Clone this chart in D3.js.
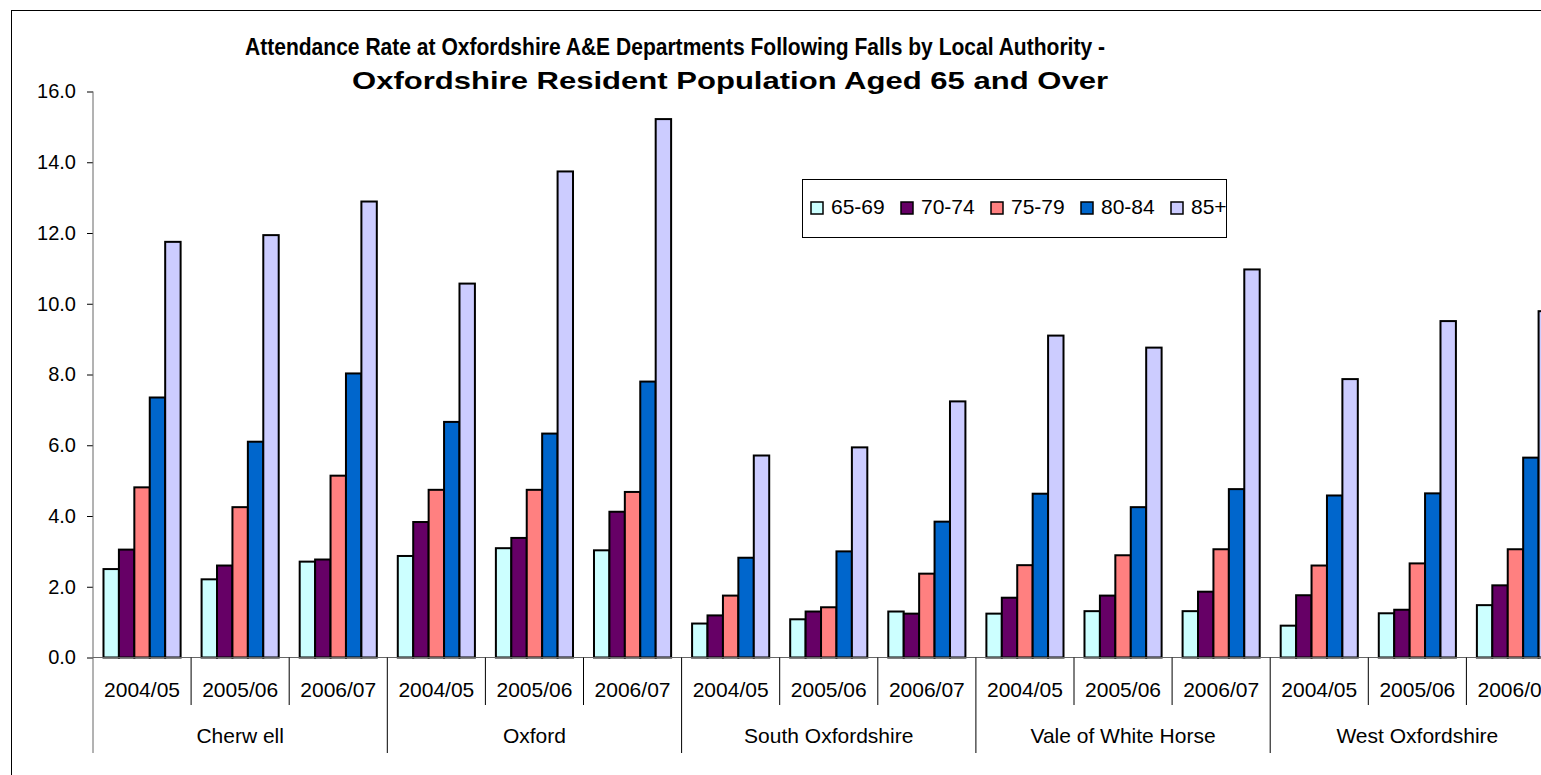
<!DOCTYPE html>
<html>
<head>
<meta charset="utf-8">
<script src="https://cdn.jsdelivr.net/npm/d3@7"></script>
<style>
  body { margin: 0; overflow: hidden; background: #fff; }
  text { font-family: "Liberation Sans", Arial, sans-serif; fill: #000; }
</style>
</head>
<body>
<div id="chart"></div>
<script>
var districts = ["Cherw ell", "Oxford", "South Oxfordshire", "Vale of White Horse", "West Oxfordshire"];
var years = ["2004/05", "2005/06", "2006/07"];
var seriesNames = ["65-69", "70-74", "75-79", "80-84", "85+"];
var seriesColors = ["#CCFFFF", "#660066", "#FF8080", "#0066CC", "#CCCCFF"];
var yTicks = [0, 2, 4, 6, 8, 10, 12, 14, 16];

// one value per district/year, in order Cherwell 04/05 ... West Oxon 06/07
var age65 = [2.50, 2.21, 2.71, 2.87, 3.09, 3.03, 0.96, 1.08, 1.30, 1.24, 1.31, 1.31, 0.90, 1.25, 1.48];
var age70 = [3.05, 2.60, 2.77, 3.83, 3.38, 4.12, 1.19, 1.30, 1.24, 1.69, 1.75, 1.86, 1.76, 1.35, 2.04];
var age75 = [4.81, 4.25, 5.14, 4.74, 4.74, 4.68, 1.75, 1.42, 2.37, 2.61, 2.89, 3.06, 2.60, 2.66, 3.06];
var age80 = [7.35, 6.10, 8.03, 6.66, 6.33, 7.80, 2.82, 3.00, 3.84, 4.63, 4.25, 4.76, 4.58, 4.64, 5.65];
var age85 = [11.75, 11.94, 12.89, 10.57, 13.74, 15.22, 5.71, 5.94, 7.24, 9.10, 8.76, 10.97, 7.87, 9.51, 9.79];
var allSeries = [age65, age70, age75, age80, age85];

var slots = [];
districts.forEach(function(d) {
  years.forEach(function(y) { slots.push(d + "|" + y); });
});

var svg = d3.select("#chart")
  .append("svg")
  .attr("width", 1620).attr("height", 800);

// outer frame (runs past the right and bottom edge of the window)
svg.append("rect")
  .attr("x", 11.5).attr("y", 10.5)
  .attr("width", 1600).attr("height", 780)
  .attr("fill", "none")
  .attr("stroke", "#000")
  .attr("stroke-width", 1);

var x0 = d3.scaleBand()
  .domain(slots)
  .range([93, 93 + 15 * 98.1])
  .padding(0);

var x1 = d3.scaleBand()
  .domain(seriesNames)
  .range([0, x0.bandwidth()])
  .paddingInner(0)
  .paddingOuter(0.68);

var y = d3.scaleLinear()
  .domain([0, 16])
  .range([657.5, 91.5]);

//title
var title = svg.append("g").attr("font-size", 24);
title.append("text")
  .attr("x", 245).attr("y", 55)
  .attr("textLength", 860)
  .attr("lengthAdjust", "spacingAndGlyphs")
  .style("font-weight", "bold")
  .text("Attendance Rate at Oxfordshire A&E Departments Following Falls by Local Authority -");
title.append("text")
  .attr("x", 352).attr("y", 89)
  .attr("textLength", 756)
  .attr("lengthAdjust", "spacingAndGlyphs")
  .style("font-weight", "bold")
  .text("Oxfordshire Resident Population Aged 65 and Over");

//bars
seriesNames.forEach(function(name, si) {
  svg.append("g")
    .selectAll("rect")
    .data(allSeries[si])
    .enter()
    .append("rect")
    .attr("x", function(d, i) { return x0(slots[i]) + x1(name); })
    .attr("y", function(d) { return y(d); })
    .attr("width", x1.bandwidth())
    .attr("height", function(d) { return y(0) - y(d); })
    .attr("fill", seriesColors[si])
    .attr("stroke", "#000")
    .attr("stroke-width", 2);
});

//y axis
var yAxis = svg.append("g")
  .attr("transform", "translate(93,0)")
  .call(d3.axisLeft(y).tickValues(yTicks).tickFormat(d3.format(".1f")).tickSize(6).tickPadding(11));
yAxis.select(".domain").remove();
yAxis.selectAll("line").attr("stroke", "#000");
yAxis.selectAll("text")
  .attr("font-size", 20)
  .style("font-family", "Liberation Sans, Arial, sans-serif");

svg.append("line")
  .attr("x1", 93).attr("x2", 93)
  .attr("y1", y(16)).attr("y2", 753)
  .attr("stroke", "#666");

// category axis baseline
svg.append("line")
  .attr("x1", 93).attr("x2", x0.range()[1])
  .attr("y1", y(0)).attr("y2", y(0))
  .attr("stroke", "#666");

// separators between years and between districts
var bounds = d3.range(1, slots.length + 1);
svg.append("g")
  .selectAll("line")
  .data(bounds)
  .enter()
  .append("line")
  .attr("x1", function(i) { return 93 + i * x0.step(); })
  .attr("x2", function(i) { return 93 + i * x0.step(); })
  .attr("y1", y(0))
  .attr("y2", function(i) { return i % 3 == 0 ? 753 : 705; })
  .attr("stroke", "#000");

// year labels
svg.append("g")
  .selectAll("text")
  .data(slots)
  .enter()
  .append("text")
  .attr("x", function(s) { return x0(s) + x0.bandwidth() / 2; })
  .attr("y", 697)
  .attr("text-anchor", "middle")
  .attr("font-size", 21)
  .text(function(s) { return s.split("|")[1]; });

// district labels
svg.append("g")
  .selectAll("text")
  .data(districts)
  .enter()
  .append("text")
  .attr("x", function(d) { return x0(d + "|" + years[1]) + x0.bandwidth() / 2; })
  .attr("y", 743)
  .attr("text-anchor", "middle")
  .attr("font-size", 21)
  .text(function(d) { return d; });

//legend
var legend = svg.append("g");
legend.append("rect")
  .attr("x", 802.5).attr("y", 179.5)
  .attr("width", 424).attr("height", 58)
  .attr("fill", "#fff")
  .attr("stroke", "#000");

var item = legend.selectAll("g.item")
  .data(seriesNames)
  .enter()
  .append("g")
  .attr("class", "item")
  .attr("transform", function(d, i) { return "translate(" + (811 + i * 90) + ",202)"; });

item.append("rect")
  .attr("width", 12).attr("height", 12)
  .attr("fill", function(d, i) { return seriesColors[i]; })
  .attr("stroke", "#000")
  .attr("stroke-width", 1.5);

item.append("text")
  .attr("x", 20).attr("y", 12)
  .attr("font-size", 21)
  .text(function(d) { return d; });
</script>
</body>
</html>
